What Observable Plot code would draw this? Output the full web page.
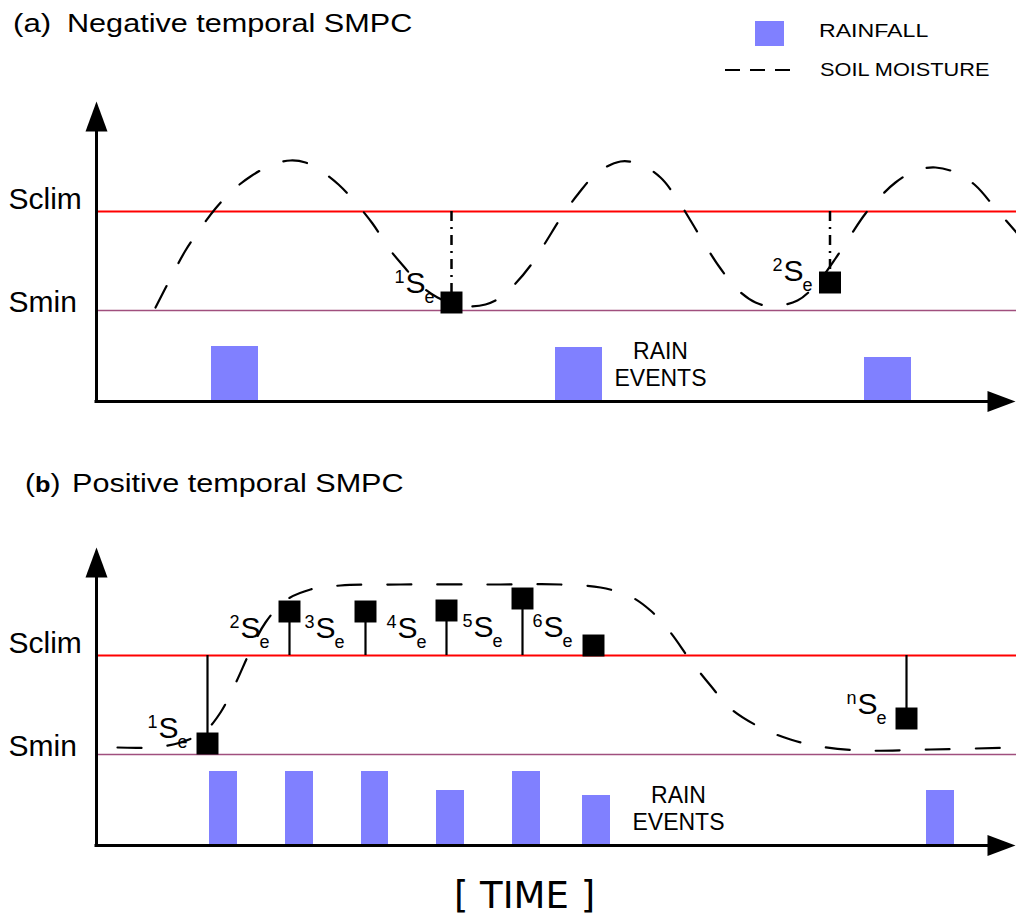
<!DOCTYPE html>
<html><head><meta charset="utf-8">
<script src="https://cdn.jsdelivr.net/npm/d3@7"></script>
<script src="https://cdn.jsdelivr.net/npm/@observablehq/plot@0.6"></script>
<style>
html,body{margin:0;padding:0;background:#fff;}
#root{position:relative;width:1016px;height:917px;overflow:hidden;font-family:"Liberation Sans",Arial,sans-serif;color:#000;}
.t{position:absolute;white-space:nowrap;transform-origin:0 50%;}
</style></head><body><div id="root"></div>
<script>
// ---------- data (time units along the TIME axis, soil-moisture level units) ----------
const sclim = 190;
const smin = 91;

// Panel (a): negative temporal SMPC
const rainA_start = [115, 459, 768];
const rainA_end = [162, 506, 815];
const rainA_amount = [55, 54, 44];
const moistA_t = [59,74,89,104,119,136,154,176,194,209,224,242,259,276,294,309,324,341,359,372,389,404,419,434,449,464,482,501,524,544,564,579,594,609,624,642,659,676,701,714,727,739,754,769,784,799,819,839,859,879,899,920];
const moistA_level = [94,123,151,173,193,211,225,237,241,239,231,217,199,178,151,133,116,104,97,95,97,104,118,136,159,183,208,229,240,237,224,205,181,156,133,111,99,95,101,111,126,143,166,188,205,219,231,234,229,216,193,169];
const eventA_t = [355, 733.5];
const eventA_level = [99, 119];
const labelA_t = [309, 687];
const labelA_level = [109, 121];
const labelA_sup = ["1", "2"];
const rainLabelA = {t: 564, level: 16};

// Panel (b): positive temporal SMPC
const rainB_start = [113, 189, 265, 340, 416, 486, 830];
const rainB_end = [141, 217, 292, 368, 444, 514, 858];
const rainB_amount = [74, 74, 74, 55, 74, 50, 55];
const moistB_t = [21,54,84,109,124,139,154,169,189,214,244,304,404,464,504,534,554,574,594,614,634,664,694,724,764,834,920];
const moistB_level = [98,98,103,115,133,162,195,223,245,256,260,261,261,261,258,249,235,213,185,160,137,118,106,99,95,96,98];
const eventB_t = [111, 193, 269, 350, 426, 497, 810];
const eventB_level = [102, 234, 234, 235, 247, 200, 127];
const labelB_t = [62, 144, 219, 301, 377, 447, 761];
const labelB_level = [108, 208, 208, 208, 209, 209, 132];
const labelB_sup = ["1", "2", "3", "4", "5", "6", "n"];
const rainLabelB = {t: 582, level: 16};

// ---------- build tables ----------
const zipRain = (s, e, a) => s.map((v, i) => ({start: v, end: e[i], amount: a[i]}));
const zipXY = (t, l) => t.map((v, i) => ({t: v, level: l[i]}));
const zipLab = (t, l, s) => t.map((v, i) => ({t: v, level: l[i], sup: s[i]}));

const root = document.getElementById("root");
const BAR = "#8080ff", RED = "#ff0000", PURPLE = "#a04f7e";

const arrowHead = (len, half) => ({
  draw(ctx) { ctx.moveTo(0, 0); ctx.lineTo(-len, -half); ctx.lineTo(-len, half); ctx.closePath(); }
});

function panel(o) {
  const marks = [
    Plot.rect(o.rain, {x1: "start", x2: "end", y1: 0, y2: "amount", fill: BAR}),
    Plot.ruleY([smin], {x1: 0, x2: 920, stroke: PURPLE, strokeWidth: 1.6}),
    Plot.ruleY([sclim], {x1: 0, x2: 920, stroke: RED, strokeWidth: 2.2}),
    Plot.line(o.moist, {x: "t", y: "level", curve: "catmull-rom", stroke: "black", strokeWidth: 2.2, strokeDasharray: "24,26"}),
    Plot.ruleX(o.events, {x: "t", y1: sclim, y2: "level", stroke: "black", strokeWidth: o.stemWidth, strokeDasharray: o.stemDash}),
    Plot.dot(o.events, {x: "t", y: "level", symbol: "square", r: 12.4, fill: "black", stroke: "none"}),
    // axes with arrowheads
    Plot.ruleX([0], {y1: -1.5, y2: 285, stroke: "black", strokeWidth: 3}),
    Plot.ruleY([0], {x1: -1.5, x2: 900, stroke: "black", strokeWidth: 3}),
    Plot.dot([0], {x: 0, y: o.yTip, symbol: arrowHead(30, 11), rotate: -90, fill: "black", stroke: "none"}),
    Plot.dot([0], {x: 919, y: 0, symbol: arrowHead(28, 10.5), fill: "black", stroke: "none"}),
    // level labels
    Plot.text([sclim], {y: d => d, frameAnchor: "left", text: () => "Sclim", textAnchor: "start", lineAnchor: "bottom", dx: -88, dy: -2.5, fontSize: 30}),
    Plot.text([smin], {y: d => d, frameAnchor: "left", text: () => "Smin", textAnchor: "start", lineAnchor: "bottom", dx: -88, dy: 1.5, fontSize: 30}),
    // event labels  (sup S sub)
    Plot.text(o.labels, {x: "t", y: "level", text: () => "S", textAnchor: "start", lineAnchor: "bottom", fontSize: 30}),
    Plot.text(o.labels, {x: "t", y: "level", text: "sup", textAnchor: "end", lineAnchor: "bottom", dx: -1, dy: -10, fontSize: 18}),
    Plot.text(o.labels, {x: "t", y: "level", text: () => "e", textAnchor: "start", lineAnchor: "bottom", dx: 19, dy: 10, fontSize: 18}),
    Plot.text([o.rainLabel], {x: "t", y: "level", text: () => "RAIN\nEVENTS", textAnchor: "middle", lineAnchor: "bottom", lineHeight: 1.174, fontSize: 23})
  ];
  const svg = Plot.plot({
    width: 1016, height: o.height,
    marginLeft: 96, marginRight: 0, marginTop: o.mt, marginBottom: o.mb,
    x: {domain: [0, 920], axis: null},
    y: {domain: [0, 300], axis: null},
    style: {fontFamily: '"Liberation Sans", Arial, sans-serif', background: "transparent", overflow: "visible", color: "black"},
    marks
  });
  svg.style.position = "absolute";
  svg.style.left = "0px";
  svg.style.top = o.top + "px";
  root.appendChild(svg);
}

panel({
  top: 80, height: 340, mt: 21, mb: 19, yTip: 300,
  rain: zipRain(rainA_start, rainA_end, rainA_amount),
  moist: zipXY(moistA_t, moistA_level),
  events: zipXY(eventA_t, eventA_level),
  labels: zipLab(labelA_t, labelA_level, labelA_sup),
  rainLabel: rainLabelA,
  stemWidth: 2.5, stemDash: "10,6,2,6"
});
panel({
  top: 520, height: 345, mt: 25, mb: 20, yTip: 298,
  rain: zipRain(rainB_start, rainB_end, rainB_amount),
  moist: zipXY(moistB_t, moistB_level),
  events: zipXY(eventB_t, eventB_level),
  labels: zipLab(labelB_t, labelB_level, labelB_sup),
  rainLabel: rainLabelB,
  stemWidth: 2.2, stemDash: null
});

// ---------- titles, legend, caption ----------
function addText(html, left, baseline, size, scale, extra) {
  const d = document.createElement("div");
  d.className = "t";
  d.innerHTML = html;
  d.style.left = left + "px";
  d.style.fontSize = size + "px";
  d.style.lineHeight = size + "px";
  d.style.top = (baseline - 0.8465 * size) + "px";
  d.style.transform = `scaleX(${scale})`;
  if (extra) Object.assign(d.style, extra);
  root.appendChild(d);
  return d;
}
addText("(a)", 13, 32, 26, 1.2);
addText("Negative temporal SMPC", 67, 32, 26, 1.177);
addText("(<b style='font-size:22px'>b</b>)", 25, 492, 26, 1.15);
addText("Positive temporal SMPC", 72, 492, 26, 1.177);

// legend
const sw = document.createElement("div");
Object.assign(sw.style, {position: "absolute", left: "755px", top: "21px", width: "29px", height: "25px", background: BAR});
root.appendChild(sw);
const ls = document.createElementNS("http://www.w3.org/2000/svg", "svg");
ls.setAttribute("width", 66); ls.setAttribute("height", 10);
Object.assign(ls.style, {position: "absolute", left: "725px", top: "65px"});
ls.innerHTML = '<line x1="0" x2="66" y1="5" y2="5" stroke="black" stroke-width="2.2" stroke-dasharray="15,10"/>';
root.appendChild(ls);
addText("RAINFALL", 819, 38, 18.5, 1.25);
addText("SOIL MOISTURE", 820, 77, 18.5, 1.175);

// caption
const cap = document.createElement("div");
cap.textContent = "[ TIME ]";
Object.assign(cap.style, {position: "absolute", left: "424.5px", width: "200px", textAlign: "center", top: (908 - 0.928 * 37) + "px", fontSize: "37px", lineHeight: "normal", fontFamily: '"DejaVu Sans", sans-serif', whiteSpace: "nowrap"});
root.appendChild(cap);
</script>
</body></html>
